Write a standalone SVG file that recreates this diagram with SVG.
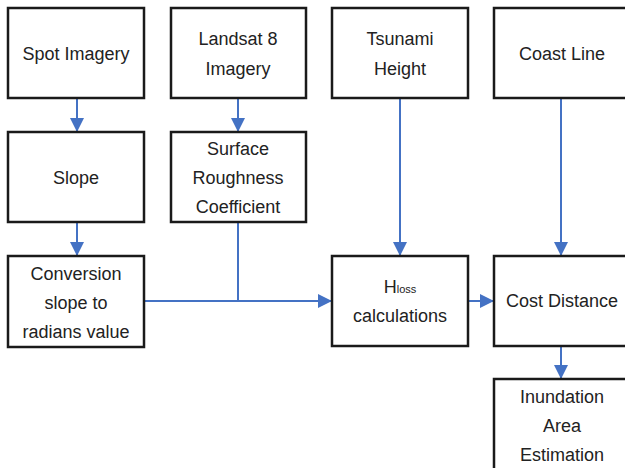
<svg xmlns="http://www.w3.org/2000/svg" width="625" height="468" viewBox="0 0 625 468">
<style>
.box{fill:#fff;stroke:#1a1a1a;stroke-width:2.5}
.t{font-family:"Liberation Sans",Arial,sans-serif;font-size:18px;fill:#222;text-anchor:middle}
.sub{font-size:11px}
.c{fill:none;stroke:#4472C4;stroke-width:2}
</style>
<defs>
<marker id="ah" viewBox="0 0 10 10" refX="10" refY="5" markerWidth="8" markerHeight="7" markerUnits="strokeWidth" orient="auto">
<path d="M0,0 L10,5 L0,10 Z" fill="#4472C4"/>
</marker>
</defs>
<rect width="625" height="468" fill="#fff"/>
<g id="connectors">
<line class="c" x1="77" y1="98" x2="77" y2="132" marker-end="url(#ah)"/>
<line class="c" x1="238" y1="98" x2="238" y2="132" marker-end="url(#ah)"/>
<line class="c" x1="77" y1="222" x2="77" y2="256" marker-end="url(#ah)"/>
<line class="c" x1="238" y1="222" x2="238" y2="301"/>
<line class="c" x1="144" y1="301" x2="332" y2="301" marker-end="url(#ah)"/>
<line class="c" x1="400" y1="98" x2="400" y2="256" marker-end="url(#ah)"/>
<line class="c" x1="561" y1="98" x2="561" y2="256" marker-end="url(#ah)"/>
<line class="c" x1="468" y1="301" x2="494" y2="301" marker-end="url(#ah)"/>
<line class="c" x1="561" y1="346" x2="561" y2="379" marker-end="url(#ah)"/>
</g>
<g id="spot"><rect class="box" x="8" y="8" width="136" height="90"/><text class="t" x="76" y="60">Spot Imagery</text></g>
<g id="landsat"><rect class="box" x="171" y="8" width="135" height="90"/><text class="t" x="238" y="45">Landsat 8</text><text class="t" x="238" y="75">Imagery</text></g>
<g id="tsunami"><rect class="box" x="332" y="8" width="136" height="90"/><text class="t" x="400" y="45">Tsunami</text><text class="t" x="400" y="75">Height</text></g>
<g id="coast"><rect class="box" x="494" y="8" width="136" height="90"/><text class="t" x="562" y="60">Coast Line</text></g>
<g id="slope"><rect class="box" x="8" y="132" width="136" height="90"/><text class="t" x="76" y="184">Slope</text></g>
<g id="surface"><rect class="box" x="171" y="132" width="135" height="90"/><text class="t" x="238" y="155">Surface</text><text class="t" x="238" y="184">Roughness</text><text class="t" x="238" y="213">Coefficient</text></g>
<g id="conversion"><rect class="box" x="8" y="256" width="136" height="91"/><text class="t" x="76" y="280">Conversion</text><text class="t" x="76" y="309">slope to</text><text class="t" x="76" y="338">radians value</text></g>
<g id="hloss"><rect class="box" x="332" y="256" width="136" height="90"/><text class="t" x="400" y="293">H<tspan class="sub">loss</tspan></text><text class="t" x="400" y="322">calculations</text></g>
<g id="cost"><rect class="box" x="494" y="256" width="136" height="90"/><text class="t" x="562" y="307">Cost Distance</text></g>
<g id="inundation"><rect class="box" x="494" y="379" width="136" height="100"/><text class="t" x="562" y="403">Inundation</text><text class="t" x="562" y="432">Area</text><text class="t" x="562" y="461">Estimation</text></g>
</svg>
